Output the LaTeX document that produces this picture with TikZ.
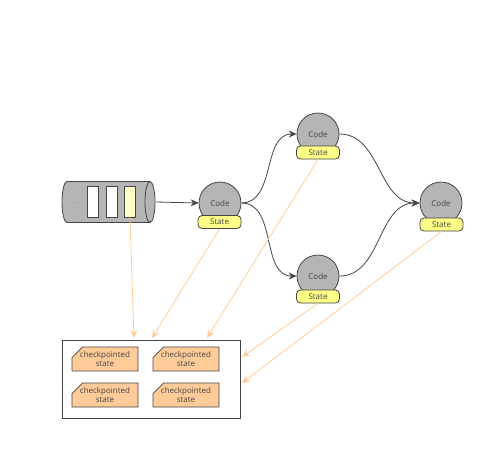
\documentclass[tikz,border=0pt]{standalone}
\usepackage{fontspec}
\setmainfont{Open Sans}
\usetikzlibrary{shapes.geometric, shapes.misc, arrows.meta}

\definecolor{nodegray}{HTML}{B5B5B5}
\definecolor{linegray}{HTML}{444444}
\definecolor{stateyellow}{HTML}{FFFF88}
\definecolor{slotyellow}{HTML}{FFFFC4}
\definecolor{ckptorange}{HTML}{FFCC99}

\begin{document}
\begin{tikzpicture}[x=1pt, y=-1pt,
	codenode/.style={circle, draw=linegray, fill=nodegray, thick, minimum size=42pt, inner sep=0pt, text=linegray, font=\fontsize{8}{9}\selectfont},
	statebox/.style={draw=linegray, fill=stateyellow, thick, rounded corners=4pt, minimum width=43pt, minimum height=13pt, inner sep=0pt, text=linegray, font=\fontsize{8}{9}\selectfont},
	slotbox/.style={draw=linegray, thick, fill=white, minimum width=11pt, minimum height=31pt, inner sep=0pt},
	ckptbox/.style={chamfered rectangle, chamfered rectangle corners=north west, chamfered rectangle xsep=7pt, draw=linegray, fill=ckptorange, thick, minimum width=66pt, minimum height=24pt, inner sep=0pt, align=center, text=linegray, font=\fontsize{8}{9}\selectfont},
	flow/.style={draw=linegray, thick, -{Stealth[length=8pt, width=7pt]}},
	ckptflow/.style={draw=ckptorange, thick, -{Stealth[length=8pt, width=7pt]}}]

	\useasboundingbox (0,0) rectangle (500,456);

	% Input queue
	\filldraw[draw=linegray, fill=nodegray, thick] (67,181.5) -- (150,181.5)
		arc[start angle=-90, end angle=90, x radius=5, y radius=20.5] -- (67,222.5)
		arc[start angle=90, end angle=270, x radius=5, y radius=20.5] -- cycle;
	\draw[linegray, thick] (150,181.5) arc[start angle=-90, end angle=-270, x radius=5, y radius=20.5];
	\coordinate (queue) at (156,202);
	\node[text=gray, font=\fontsize{5}{6}\selectfont] (qdots) at (77,203) {...};
	\node[slotbox] (slot1) at (92.5,201.5) {};
	\node[slotbox] (slot2) at (111.5,201.5) {};
	\node[slotbox, fill=slotyellow] (slot3) at (130,201.5) {};

	% Operators
	\node[codenode] (code1) at (220,203) {Code};
	\node[statebox] (state1) at (219.5,222) {State};
	\node[codenode] (code2) at (318,134) {Code};
	\node[statebox] (state2) at (318,152.5) {State};
	\node[codenode] (code3) at (318,276) {Code};
	\node[statebox] (state3) at (318,296.5) {State};
	\node[codenode] (code4) at (441,203) {Code};
	\node[statebox] (state4) at (441.5,224.5) {State};

	% Data flow
	\draw[flow] (queue) -- (code1.west);
	\draw[flow] (code1.east) to[out=0, in=180] (code2.west);
	\draw[flow] (code1.east) to[out=0, in=180] (code3.west);
	\draw[flow] (code2.east) to[out=0, in=180] (code4.west);
	\draw[flow] (code3.east) to[out=0, in=180] (code4.west);

	% Checkpoint store
	\node[draw=linegray, thick, minimum width=178pt, minimum height=78pt, inner sep=0pt] (store) at (151.5,379) {};
	\node[ckptbox] (ckpt1) at (105,359) {checkpointed\\state};
	\node[ckptbox] (ckpt2) at (186,359) {checkpointed\\state};
	\node[ckptbox] (ckpt3) at (105,395) {checkpointed\\state};
	\node[ckptbox] (ckpt4) at (186,395) {checkpointed\\state};

	% Snapshots
	\coordinate (dst1) at (134,338);
	\coordinate (dst2) at (152,338);
	\coordinate (dst3) at (207,338);
	\coordinate (dst4) at (242,357);
	\coordinate (dst5) at (242,383);
	\draw[ckptflow] (slot3.south) -- (dst1);
	\draw[ckptflow] (state1.south) -- (dst2);
	\draw[ckptflow] (state2.south) -- (dst3);
	\draw[ckptflow] (state3.south) -- (dst4);
	\draw[ckptflow] (state4.south) -- (dst5);

\end{tikzpicture}
\end{document}
